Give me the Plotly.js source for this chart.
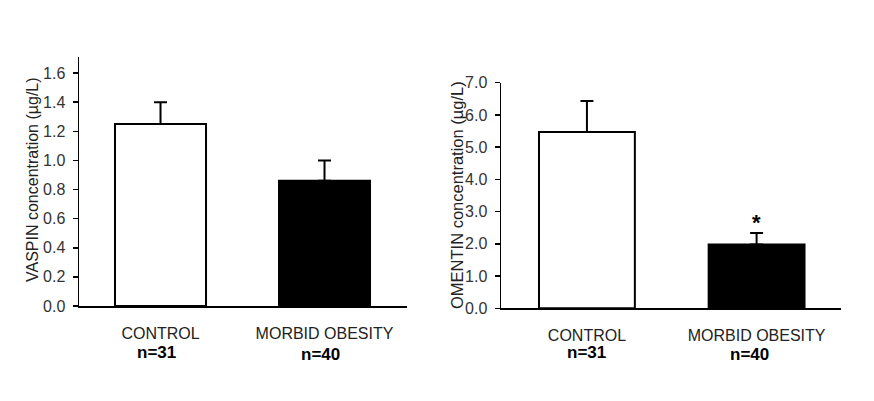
<!DOCTYPE html>
<html><head><meta charset="utf-8">
<script src="https://cdn.plot.ly/plotly-3.0.1.min.js"></script>
<style>html,body{margin:0;padding:0;background:#fff}#chart{width:874px;height:401px}</style>
</head><body><div id="chart"></div>
<script>
const categories = ["CONTROL", "MORBID OBESITY"];
const groupSizes = ["n=31", "n=40"];
const vaspinMean = [1.25, 0.86];
const vaspinSEM = [0.15, 0.14];
const omentinMean = [5.47, 1.98];
const omentinSEM = [0.96, 0.36];
const omentinSignificant = [false, true];
const barColors = ["#ffffff", "#000000"];
const vaspinTitle = "VASPIN concentration (µg/L)";
const omentinTitle = "OMENTIN concentration (µg/L)";

const W = 874, H = 401;
const FAM = "Liberation Sans, Arial, sans-serif";
const errStyle = {color: "#000", thickness: 2, width: 6.5};
const traces = [
  {type: "bar", x: [0, 1], y: vaspinMean, xaxis: "x", yaxis: "y", width: 0.555,
   marker: {color: barColors, line: {color: "#000", width: 2}},
   error_y: Object.assign({type: "data", symmetric: false, array: vaspinSEM, arrayminus: [0, 0]}, errStyle),
   hoverinfo: "none", showlegend: false},
  {type: "bar", x: [0, 1], y: omentinMean, xaxis: "x2", yaxis: "y2", width: 0.565,
   marker: {color: barColors, line: {color: "#000", width: 2}},
   error_y: Object.assign({type: "data", symmetric: false, array: omentinSEM, arrayminus: [0, 0]}, errStyle),
   hoverinfo: "none", showlegend: false}
];

const tickFont = {family: FAM, size: 16, color: "#333"};
const catFont = {family: FAM, size: 16, color: "#222"};
function xax(d, r) {
  return {domain: d, range: r, showline: true, linecolor: "#000", linewidth: 1.5,
    tickmode: "array", tickvals: [0, 1], ticktext: categories, ticks: "", ticklabelstandoff: 12,
    tickfont: catFont, showgrid: false, zeroline: false, fixedrange: true};
}
function yax(d, r, dt, ax) {
  return {domain: d, range: r, showline: true, linecolor: "#000", linewidth: 1.5,
    tickmode: "linear", tick0: 0, dtick: dt, tickformat: ".1f", ticks: "outside", ticklen: 5,
    tickcolor: "#000", tickwidth: 1.5, tickfont: tickFont, ticklabelstandoff: 4,
    showgrid: false, zeroline: false, anchor: ax, fixedrange: true};
}

const annotations = [];
function addN(xs, ys) {
  groupSizes.forEach((t, i) => annotations.push({xref: "paper", yref: "paper", x: xs[i] / W, y: 1 - ys[i] / H,
    text: t, showarrow: false, font: {family: FAM, size: 17, color: "#000", weight: "bold"},
    xanchor: "center", yanchor: "middle"}));
}
addN([156, 320], [352, 354]);
addN([586, 749], [352, 354]);
annotations.push({xref: "paper", yref: "paper", x: 32 / W, y: 1 - 180 / H, text: vaspinTitle, textangle: -90,
  showarrow: false, font: {family: FAM, size: 16, color: "#222"}, xanchor: "center", yanchor: "middle"});
annotations.push({xref: "paper", yref: "paper", x: 457 / W, y: 1 - 195 / H, text: omentinTitle, textangle: -90,
  showarrow: false, font: {family: FAM, size: 16.5, color: "#222"}, xanchor: "center", yanchor: "middle"});
omentinSignificant.forEach((s, i) => {
  if (s) annotations.push({xref: "x2", yref: "y2", x: i, y: omentinMean[i] + omentinSEM[i], text: "*",
    showarrow: false, yanchor: "bottom", yshift: -4,
    font: {family: FAM, size: 22, color: "#000", weight: "bold"}});
});

const layout = {
  width: W, height: H, margin: {l: 0, r: 0, t: 0, b: 0}, paper_bgcolor: "#fff", plot_bgcolor: "#fff",
  xaxis: Object.assign(xax([79 / W, 407 / W], [-0.497, 1.503]), {anchor: "y"}),
  yaxis: yax([1 - 306 / H, 1 - 57 / H], [0, 1.71], 0.2, "x"),
  xaxis2: Object.assign(xax([501 / W, 841 / W], [-0.5065, 1.4975]), {anchor: "y2"}),
  yaxis2: yax([1 - 308.3 / H, 1 - 82.7 / H], [0, 7], 1, "x2"),
  annotations: annotations, bargap: 0
};
Plotly.newPlot("chart", traces, layout, {displayModeBar: false, staticPlot: true});
</script></body></html>
